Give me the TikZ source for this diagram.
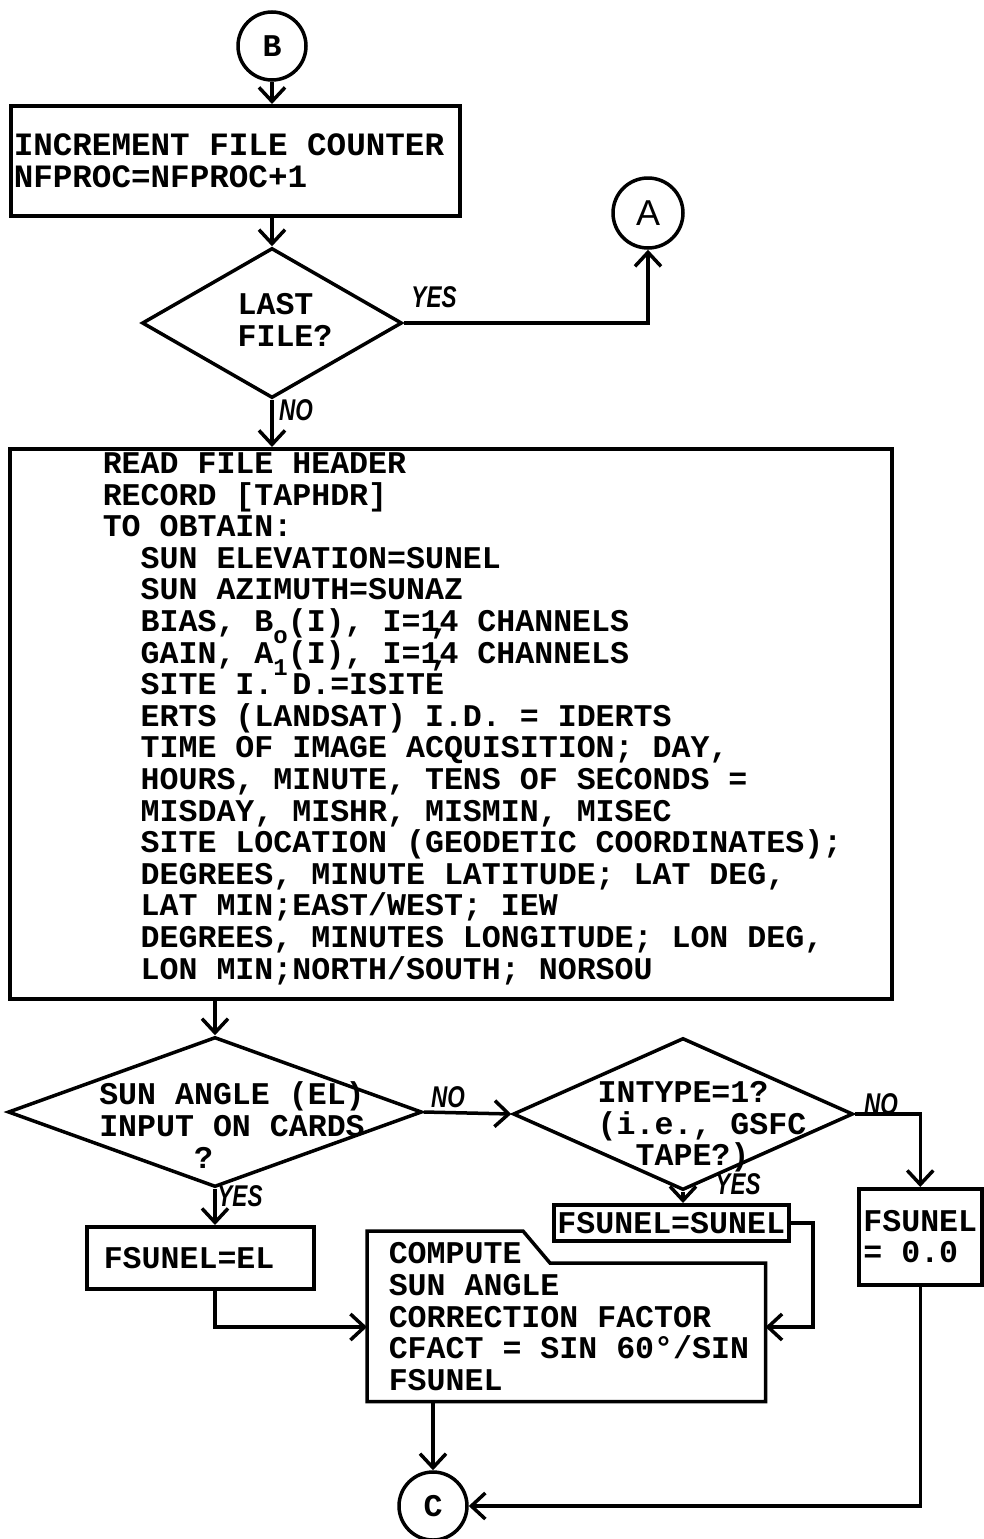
\documentclass[tikz,border=0pt]{standalone}
\usepackage{fontspec}
\setmonofont{Liberation Mono}
\newfontfamily\handf{Liberation Sans}
\usetikzlibrary{arrows.meta,shapes.geometric,calc}
\newcommand\mainf{\ttfamily\bfseries\fontsize{31.6}{31.6}\selectfont}
\newcommand\labf{\handf\bfseries\itshape\fontsize{30}{30}\selectfont}
\newcommand\lowsub[1]{\smash{\raisebox{-12pt}{\fontsize{24}{24}\selectfont #1}}}
\newcommand\hcomma{\makebox[0pt]{\smash{\raisebox{-2pt}{,}}}}
\newcommand\ind{\phantom{XX}}
\begin{document}
\begin{tikzpicture}[x=1pt,y=-1pt,line width=3.5pt,
  arr/.style={-{Straight Barb[length=14pt,width=26pt,line width=3.5pt]}},
  box/.style={draw,rectangle,inner sep=0pt,font=\mainf},
  dec/.style={draw,diamond,inner sep=0pt,line join=miter},
  circ/.style={draw,circle,minimum size=68pt,inner sep=0pt,font=\mainf},
  txt/.style={font=\mainf,align=left,inner sep=0pt},
  lab/.style={font=\labf,inner sep=0pt}]
\useasboundingbox (0,0) rectangle (983,1539);

% B, first box, first decision, A
\node[circ] (B) at (272,46) {B};
\node[box,minimum width=449,minimum height=110,anchor=north west] (inc) at (9,104) {};
\node[txt,anchor=west,font=\ttfamily\bfseries\fontsize{32.6}{32}\selectfont] (inct) at (12,161) {INCREMENT FILE COUNTER\\NFPROC=NFPROC+1};
\node[dec,minimum width=260,minimum height=150] (d1) at (272,323) {};
\node[txt] (d1t) at (285,320) {LAST\\FILE?};
\node[circ,minimum size=70pt,font=\handf\fontsize{36}{36}\selectfont] (A) at (648,213) {A};

\draw[arr] (B.south) -- (B.south |- inc.north);
\draw[arr] (d1.north |- inc.south) -- (d1.north);
\draw[arr] (d1.east) -| (A.south);
\node[lab] (yes1) at (434,297) {\scalebox{0.75}[1]{YES}};

% big box
\node[box,line width=4pt,minimum width=882,minimum height=550,anchor=north west] (big) at (8,447) {};
\draw[arr] (d1.south) -- (d1.south |- big.north);
\node[lab] (no1) at (296,410) {\scalebox{0.75}[1]{NO}};
\node[txt,anchor=north west] (bigt) at (101,451) {READ FILE HEADER\\
RECORD [TAPHDR]\\
TO OBTAIN:\\
\ind SUN ELEVATION=SUNEL\\
\ind SUN AZIMUTH=SUNAZ\\
\ind BIAS, B\lowsub{o}(I), I=1\hcomma 4 CHANNELS\\
\ind GAIN, A\lowsub{1}(I), I=1\hcomma 4 CHANNELS\\
\ind SITE I. D.=ISITE\\
\ind ERTS (LANDSAT) I.D. = IDERTS\\
\ind TIME OF IMAGE ACQUISITION; DAY,\\
\ind HOURS, MINUTE, TENS OF SECONDS =\\
\ind MISDAY, MISHR, MISMIN, MISEC\\
\ind SITE LOCATION (GEODETIC COORDINATES);\\
\ind DEGREES, MINUTE LATITUDE; LAT DEG,\\
\ind LAT MIN;EAST/WEST; IEW\\
\ind DEGREES, MINUTES LONGITUDE; LON DEG,\\
\ind LON MIN;NORTH/SOUTH; NORSOU};

% second decision
\node[dec,minimum width=414,minimum height=150] (d2) at (215,1112) {};
\node[txt] (d2t) at (232,1125) {SUN ANGLE (EL)\\INPUT ON CARDS\\\phantom{XXXXX}?};
\draw[arr] (d2.north |- big.south) -- (d2.north);

% third decision
\node[dec,minimum width=340,minimum height=152] (d3) at (683,1114) {};
\node[txt] (d3t) at (702,1127) {INTYPE=1?\\(i.e., GSFC\\\phantom{XX}TAPE?)};
\draw[arr] (d2.east) -- (d3.west);
\node[lab] (no2) at (448,1097) {\scalebox{0.75}[1]{NO}};

% boxes
\node[box,minimum width=227,minimum height=62,anchor=north west,align=left,text width=193,inner xsep=17pt] (b1) at (85,1225) {FSUNEL=EL};
\node[box,minimum width=235,minimum height=36,anchor=north west] (b2) at (552,1203) {FSUNEL=SUNEL};
\node[box,minimum width=123,minimum height=96,anchor=north west,align=left] (b3) at (857,1187) {FSUNEL\\= 0.0};

\draw[arr] (d3.east) -| (b3.north);
\node[lab] (no3) at (881,1104) {\scalebox{0.75}[1]{NO}};
\draw[arr] (d3.south) -- (d3.south |- b2.north);
\node[lab] (yes3) at (738,1184) {\scalebox{0.75}[1]{YES}};
\draw[arr] (d2.south) -- (d2.south |- b1.north);
\node[lab] (yes2) at (240,1196) {\scalebox{0.75}[1]{YES}};

% compute box
\node[minimum width=395,minimum height=167,anchor=north west,inner sep=0pt] (comp) at (367,1231) {};
\draw[line join=miter] (comp.south west) -- (comp.north west) -- ++(156,0) -- ++(27,32) -| (comp.south east) -- cycle;
\node[txt,anchor=north west] (compt) at (387,1241) {COMPUTE\\SUN ANGLE\\CORRECTION FACTOR\\CFACT = SIN 60°/SIN\\FSUNEL};

\node[circ] (C) at (433,1506) {C};
\coordinate (j1) at (813,1327);
\draw[arr] (b2.east) -| (j1) -- (j1 -| comp.east);
\draw[arr] (d2.south |- b1.south) |- (comp.west |- j1);
\draw[arr] (C.north |- comp.south) -- (C.north);
\draw[arr] (b3.south) |- (C.east);
\end{tikzpicture}
\end{document}
